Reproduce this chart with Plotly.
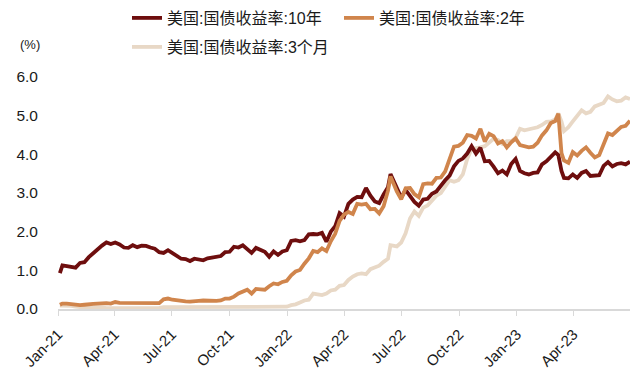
import plotly.graph_objects as go

dates = [
    "2021-01-04", "2021-01-08", "2021-01-15", "2021-01-22", "2021-01-29",
    "2021-02-05", "2021-02-12", "2021-02-19", "2021-02-26",
    "2021-03-05", "2021-03-12", "2021-03-19", "2021-03-26",
    "2021-04-02", "2021-04-09", "2021-04-16", "2021-04-23", "2021-04-30",
    "2021-05-07", "2021-05-14", "2021-05-21", "2021-05-28",
    "2021-06-04", "2021-06-11", "2021-06-18", "2021-06-25",
    "2021-07-02", "2021-07-09", "2021-07-16", "2021-07-23", "2021-07-30",
    "2021-08-06", "2021-08-13", "2021-08-20", "2021-08-27",
    "2021-09-03", "2021-09-10", "2021-09-17", "2021-09-24",
    "2021-10-01", "2021-10-08", "2021-10-15", "2021-10-22", "2021-10-29",
    "2021-11-05", "2021-11-12", "2021-11-19", "2021-11-26",
    "2021-12-03", "2021-12-10", "2021-12-17", "2021-12-24", "2021-12-31",
    "2022-01-07", "2022-01-14", "2022-01-21", "2022-01-28",
    "2022-02-04", "2022-02-11", "2022-02-18", "2022-02-25",
    "2022-03-04", "2022-03-11", "2022-03-18", "2022-03-25",
    "2022-04-01", "2022-04-08", "2022-04-15", "2022-04-22", "2022-04-29",
    "2022-05-06", "2022-05-13", "2022-05-20", "2022-05-27",
    "2022-06-03", "2022-06-10", "2022-06-14", "2022-06-24",
    "2022-07-01", "2022-07-08", "2022-07-15", "2022-07-22", "2022-07-29",
    "2022-08-05", "2022-08-12", "2022-08-19", "2022-08-26",
    "2022-09-02", "2022-09-09", "2022-09-16", "2022-09-23", "2022-09-30",
    "2022-10-07", "2022-10-14", "2022-10-21", "2022-10-28",
    "2022-11-04", "2022-11-11", "2022-11-18", "2022-11-25",
    "2022-12-02", "2022-12-09", "2022-12-16", "2022-12-23", "2022-12-30",
    "2023-01-06", "2023-01-13", "2023-01-20", "2023-01-27",
    "2023-02-03", "2023-02-10", "2023-02-17", "2023-02-24",
    "2023-03-03", "2023-03-08", "2023-03-13", "2023-03-17", "2023-03-24", "2023-03-31",
    "2023-04-07", "2023-04-14", "2023-04-21", "2023-04-28",
    "2023-05-05", "2023-05-12", "2023-05-19", "2023-05-26",
    "2023-06-02", "2023-06-09", "2023-06-16", "2023-06-23", "2023-06-30",
]

yield_10y = [
    0.93, 1.13, 1.11, 1.10, 1.07, 1.19, 1.21, 1.34, 1.44, 1.57, 1.64, 1.72, 1.68,
    1.72, 1.67, 1.59, 1.58, 1.65, 1.60, 1.64, 1.63, 1.59, 1.56, 1.47, 1.45, 1.52,
    1.44, 1.37, 1.30, 1.29, 1.24, 1.30, 1.28, 1.26, 1.31, 1.33, 1.34, 1.37, 1.47,
    1.48, 1.61, 1.59, 1.65, 1.56, 1.45, 1.58, 1.54, 1.48, 1.35, 1.49, 1.40, 1.49, 1.52,
    1.76, 1.78, 1.75, 1.78, 1.93, 1.94, 1.93, 1.97, 1.74, 2.00, 2.14, 2.48,
    2.39, 2.72, 2.83, 2.90, 2.89, 3.13, 2.93, 2.78, 2.74, 2.96, 3.15, 3.49, 3.13,
    2.88, 3.08, 2.93, 2.77, 2.67, 2.83, 2.85, 2.98, 3.04, 3.20, 3.33, 3.45, 3.69, 3.83,
    3.89, 4.02, 4.21, 4.02, 4.17, 3.82, 3.83, 3.68, 3.51, 3.58, 3.48, 3.75, 3.88,
    3.57, 3.51, 3.48, 3.52, 3.53, 3.74, 3.82, 3.95, 4.05, 3.98, 3.57, 3.39, 3.38, 3.48,
    3.39, 3.52, 3.57, 3.44, 3.44, 3.46, 3.70, 3.80, 3.69, 3.75, 3.77, 3.74, 3.81,
]

yield_2y = [
    0.11, 0.14, 0.14, 0.12, 0.11, 0.10, 0.11, 0.11, 0.13, 0.14, 0.15, 0.15, 0.14,
    0.18, 0.16, 0.16, 0.16, 0.16, 0.15, 0.15, 0.16, 0.14, 0.14, 0.15, 0.25, 0.27,
    0.24, 0.22, 0.22, 0.20, 0.19, 0.21, 0.21, 0.22, 0.21, 0.21, 0.21, 0.22, 0.27,
    0.27, 0.32, 0.40, 0.46, 0.50, 0.40, 0.52, 0.51, 0.50, 0.59, 0.66, 0.64, 0.70, 0.73,
    0.87, 0.97, 1.01, 1.17, 1.31, 1.50, 1.47, 1.57, 1.50, 1.75, 1.95, 2.28,
    2.44, 2.51, 2.46, 2.72, 2.70, 2.72, 2.58, 2.59, 2.47, 2.66, 3.06, 3.43, 3.04,
    2.84, 3.12, 3.13, 2.97, 2.89, 3.23, 3.25, 3.24, 3.39, 3.40, 3.56, 3.87, 4.20, 4.22,
    4.30, 4.50, 4.48, 4.41, 4.66, 4.33, 4.53, 4.47, 4.28, 4.34, 4.18, 4.31, 4.41,
    4.24, 4.22, 4.18, 4.20, 4.30, 4.49, 4.62, 4.81, 4.86, 5.05, 4.03, 3.84, 3.78, 4.06,
    3.97, 4.09, 4.18, 4.04, 3.92, 3.98, 4.28, 4.54, 4.50, 4.62, 4.71, 4.74, 4.87,
]

yield_3m = [
    0.09, 0.09, 0.09, 0.08, 0.06, 0.04, 0.04, 0.04, 0.04, 0.05, 0.04, 0.02, 0.02,
    0.03, 0.02, 0.02, 0.02, 0.01, 0.02, 0.02, 0.02, 0.02, 0.03, 0.03, 0.05, 0.05,
    0.05, 0.05, 0.05, 0.05, 0.06, 0.05, 0.06, 0.05, 0.05, 0.05, 0.05, 0.05, 0.04,
    0.04, 0.05, 0.05, 0.05, 0.05, 0.05, 0.05, 0.05, 0.05, 0.05, 0.06, 0.05, 0.05, 0.06,
    0.10, 0.12, 0.17, 0.22, 0.24, 0.40, 0.38, 0.36, 0.40, 0.48, 0.50, 0.60,
    0.62, 0.75, 0.84, 0.90, 0.92, 0.90, 1.03, 1.08, 1.12, 1.22, 1.30, 1.65, 1.62,
    1.72, 1.96, 2.34, 2.52, 2.41, 2.62, 2.68, 2.80, 2.93, 3.00, 3.15, 3.33, 3.29, 3.33,
    3.48, 3.88, 4.14, 4.15, 4.18, 4.21, 4.30, 4.40, 4.37, 4.27, 4.34, 4.34, 4.42,
    4.66, 4.62, 4.64, 4.66, 4.70, 4.76, 4.84, 4.85, 4.90, 5.06, 4.85, 4.60, 4.70, 4.85,
    4.98, 5.14, 5.06, 5.10, 5.24, 5.29, 5.33, 5.50, 5.42, 5.37, 5.39, 5.47, 5.43,
]

series_names = ["美国:国债收益率:10年", "美国:国债收益率:2年", "美国:国债收益率:3个月"]
tick_dates = ["2021-01-01", "2021-04-01", "2021-07-01", "2021-10-01", "2022-01-01",
              "2022-04-01", "2022-07-01", "2022-10-01", "2023-01-01", "2023-04-01"]
tick_labels = ["Jan-21", "Apr-21", "Jul-21", "Oct-21", "Jan-22",
               "Apr-22", "Jul-22", "Oct-22", "Jan-23", "Apr-23"]
y_ticks = [0, 1, 2, 3, 4, 5, 6]

colors = ["#6E0E0E", "#D0854C", "#E8D8C6"]
FONT = "Arial, Liberation Sans, Noto Sans CJK SC, sans-serif"

# The page body has an 8px margin, so the figure is 8px smaller than the window.
W, H = 632, 366

fig = go.Figure()
order = [2, 0, 1]
data = [yield_10y, yield_2y, yield_3m]
legends = ["legend", "legend2", "legend3"]
for i in order:
    fig.add_trace(go.Scatter(
        x=dates, y=data[i], mode="lines", name=series_names[i],
        line=dict(color=colors[i], width=3.8),
        legend=legends[i], showlegend=True,
    ))

leg_common = dict(orientation="h", xref="container", yref="container",
                  xanchor="left", yanchor="middle",
                  font=dict(family=FONT, size=16, color="#1a1a1a"),
                  bgcolor="rgba(0,0,0,0)", borderwidth=0)

fig.update_layout(
    width=W, height=H,
    showlegend=True,
    margin=dict(l=50, r=10, t=69, b=65, autoexpand=False),
    paper_bgcolor="white", plot_bgcolor="white",
    font=dict(family=FONT, color="#1a1a1a"),
    legend=dict(x=119 / W, y=1 - 10 / H, **leg_common),
    legend2=dict(x=331 / W, y=1 - 10 / H, **leg_common),
    legend3=dict(x=119 / W, y=1 - 39 / H, **leg_common),
    xaxis=dict(
        type="date", range=["2021-01-01", "2023-06-30"], automargin=False,
        tickmode="array", tickvals=tick_dates, ticktext=tick_labels,
        tickangle=-45, tickfont=dict(family=FONT, size=15, color="#1a1a1a"),
        ticks="outside", ticklen=5, tickcolor="#d9d9d9", tickwidth=1,
        ticklabelstandoff=4,
        showline=True, linecolor="#d9d9d9", linewidth=1.5,
        showgrid=False, zeroline=False,
    ),
    yaxis=dict(
        range=[0, 6], tickmode="array", tickvals=y_ticks, tickformat=".1f",
        automargin=False,
        tickfont=dict(family=FONT, size=15.5, color="#1a1a1a"),
        ticks="", ticklabelstandoff=19,
        showline=False, showgrid=False, zeroline=False,
    ),
    annotations=[dict(
        text="(%)", xref="paper", yref="paper", x=-0.0285, y=1 + 32 / 232,
        xanchor="right", yanchor="middle", showarrow=False,
        font=dict(family=FONT, size=13, color="#1a1a1a"),
    )],
)

fig.write_html("out.html")
